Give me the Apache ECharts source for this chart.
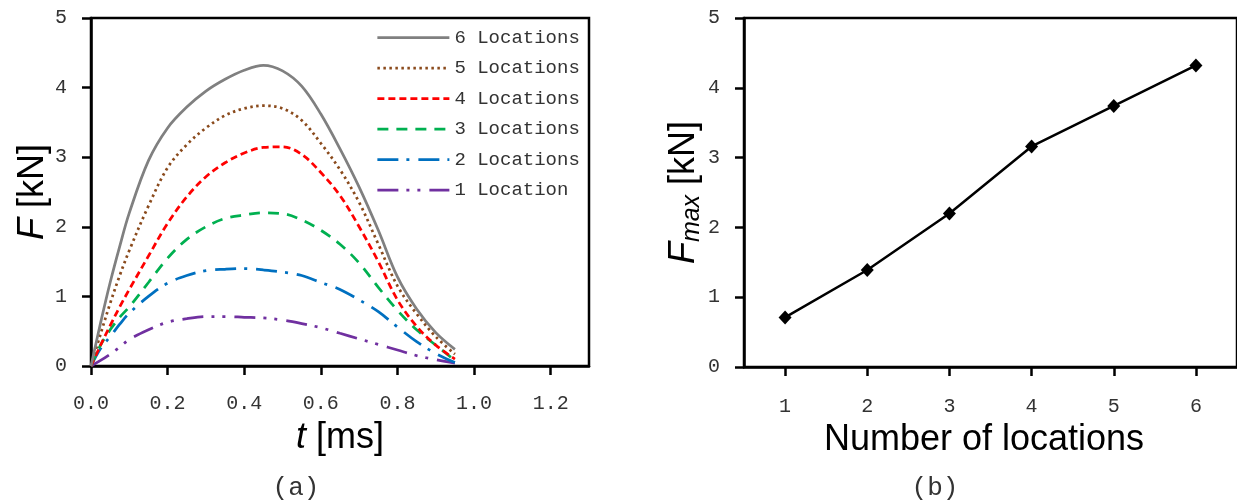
<!DOCTYPE html>
<html>
<head>
<meta charset="utf-8">
<script src="https://cdn.jsdelivr.net/npm/echarts@6/dist/echarts.min.js"></script>
<style>
html, body { margin: 0; padding: 0; background: #fff; }
#chart { width: 1237px; height: 502px; }
</style>
</head>
<body>
<div id="chart"></div>
<script>
// ---- data ----
const tMs = [0, 0.025, 0.05, 0.075, 0.1, 0.15, 0.2, 0.25, 0.3, 0.35, 0.4, 0.45, 0.5, 0.55, 0.6, 0.65, 0.7, 0.75, 0.8, 0.85, 0.9, 0.95];
const loc6 = [0, 0.62, 1.2, 1.72, 2.2, 2.95, 3.42, 3.72, 3.95, 4.12, 4.25, 4.32, 4.24, 4.02, 3.62, 3.12, 2.57, 1.95, 1.28, 0.82, 0.48, 0.24];
const loc5 = [0, 0.46, 0.9, 1.3, 1.66, 2.3, 2.85, 3.18, 3.42, 3.6, 3.7, 3.74, 3.7, 3.53, 3.2, 2.82, 2.35, 1.75, 1.15, 0.75, 0.42, 0.17];
const loc4 = [0, 0.3, 0.58, 0.85, 1.1, 1.58, 2.05, 2.43, 2.72, 2.92, 3.06, 3.14, 3.15, 3.04, 2.78, 2.45, 2.0, 1.5, 0.95, 0.57, 0.3, 0.1];
const loc3 = [0, 0.3, 0.52, 0.7, 0.85, 1.2, 1.55, 1.82, 2.0, 2.12, 2.17, 2.2, 2.19, 2.1, 1.95, 1.75, 1.48, 1.13, 0.8, 0.52, 0.3, 0.08];
const loc2 = [0, 0.25, 0.42, 0.6, 0.76, 1.0, 1.19, 1.3, 1.37, 1.39, 1.4, 1.38, 1.35, 1.3, 1.2, 1.1, 0.95, 0.78, 0.56, 0.35, 0.18, 0.05];
const loc1 = [0, 0.08, 0.17, 0.27, 0.38, 0.52, 0.63, 0.68, 0.71, 0.71, 0.7, 0.69, 0.66, 0.61, 0.55, 0.47, 0.39, 0.31, 0.23, 0.15, 0.09, 0.04];
const seriesNames = ['6 Locations', '5 Locations', '4 Locations', '3 Locations', '2 Locations', '1 Location'];
const tTicks = [0, 0.2, 0.4, 0.6, 0.8, 1.0, 1.2];
const locationCounts = ['1', '2', '3', '4', '5', '6'];
const fMax = [0.71, 1.39, 2.2, 3.16, 3.74, 4.32];

// ---- styles ----
const colors = ['#808080', '#8a4a1c', '#ff0000', '#00b050', '#0070c0', '#7030a0'];
const dashes = ['solid', [2.5, 3.5], [7, 4], [11, 8], [21, 8, 3, 9], [21, 8, 3, 8, 3, 9]];
const curves = [loc6, loc5, loc4, loc3, loc2, loc1];

const mono = 'Liberation Mono';
const sans = 'Liberation Sans';
const tickLabel = { fontFamily: mono, fontSize: 20, color: '#333' };
const axLine = { show: true, onZero: false, lineStyle: { color: '#000', width: 2.5 } };
const axTick = { show: true, length: 9, lineStyle: { color: '#000', width: 2.5 } };

const chart = echarts.init(document.getElementById('chart'), null, { renderer: 'canvas' });

const lineSeries = curves.map((vals, k) => ({
  name: seriesNames[k],
  type: 'line',
  xAxisIndex: 0,
  yAxisIndex: 0,
  smooth: 0.35,
  symbol: 'none',
  data: tMs.map((t, i) => [t, vals[i]]),
  lineStyle: { color: colors[k], width: 2.75, type: dashes[k] },
  itemStyle: { color: colors[k] },
  z: 10 - k
}));

const option = {
  animation: false,
  backgroundColor: '#fff',
  grid: [
    { left: 91, top: 18, right: 648, bottom: 136, show: true, borderColor: '#000', borderWidth: 2.5, backgroundColor: 'transparent' },
    { left: 744, top: 18, right: -4, bottom: 135, show: true, borderColor: '#000', borderWidth: 2.5, backgroundColor: 'transparent' }
  ],
  legend: {
    data: seriesNames,
    orient: 'vertical',
    left: 376,
    top: 28,
    padding: 0,
    itemWidth: 72,
    itemHeight: 14,
    itemGap: 11.5,
    itemStyle: { opacity: 0 },
    lineStyle: { width: 2.75 },
    textStyle: { fontFamily: mono, fontSize: 19, color: '#333' }
  },
  xAxis: [
    {
      type: 'value', gridIndex: 0, min: 0, max: 1.3,
      splitLine: { show: false },
      axisLine: axLine,
      axisTick: Object.assign({ customValues: tTicks }, axTick),
      axisLabel: Object.assign({ customValues: tTicks, margin: 28, formatter: v => v.toFixed(1) }, tickLabel),
      name: '{i|t}{n| [ms]}',
      nameLocation: 'middle',
      nameGap: 54,
      nameTextStyle: {
        rich: {
          i: { fontFamily: sans, fontSize: 36, fontStyle: 'italic', color: '#000' },
          n: { fontFamily: sans, fontSize: 36, color: '#000' }
        }
      }
    },
    {
      type: 'category', gridIndex: 1, data: locationCounts, boundaryGap: true,
      splitLine: { show: false },
      axisLine: axLine,
      axisTick: Object.assign({ alignWithLabel: true }, axTick),
      axisLabel: Object.assign({ margin: 30 }, tickLabel),
      name: 'Number of locations',
      nameLocation: 'middle',
      nameGap: 54,
      nameTextStyle: { fontFamily: sans, fontSize: 36, color: '#000', padding: [0, 13, 0, 0] }
    }
  ],
  yAxis: [
    {
      type: 'value', gridIndex: 0, min: 0, max: 5, interval: 1,
      splitLine: { show: false },
      axisLine: axLine,
      axisTick: axTick,
      axisLabel: Object.assign({ margin: 24 }, tickLabel),
      name: '{i|F}{n| [kN]}',
      nameLocation: 'middle',
      nameGap: 40,
      nameTextStyle: {
        rich: {
          i: { fontFamily: sans, fontSize: 36, fontStyle: 'italic', color: '#000' },
          n: { fontFamily: sans, fontSize: 36, color: '#000' }
        }
      }
    },
    {
      type: 'value', gridIndex: 1, min: 0, max: 5, interval: 1,
      splitLine: { show: false },
      axisLine: axLine,
      axisTick: axTick,
      axisLabel: Object.assign({ margin: 24 }, tickLabel),
      name: '{i|F}{s|max}{n| [kN]}',
      nameLocation: 'middle',
      nameGap: 38,
      nameTextStyle: {
        rich: {
          i: { fontFamily: sans, fontSize: 36, fontStyle: 'italic', color: '#000', lineHeight: 38, verticalAlign: 'top' },
          s: { fontFamily: sans, fontSize: 25, fontStyle: 'italic', color: '#000', lineHeight: 25, padding: [20, 0, 0, 0], verticalAlign: 'bottom' },
          n: { fontFamily: sans, fontSize: 36, color: '#000', lineHeight: 38, verticalAlign: 'top' }
        }
      }
    }
  ],
  series: lineSeries.concat([{
    name: 'Fmax',
    type: 'line',
    xAxisIndex: 1,
    yAxisIndex: 1,
    data: fMax,
    symbol: 'diamond',
    symbolSize: [13, 14],
    lineStyle: { color: '#000', width: 2.5 },
    itemStyle: { color: '#000' }
  }]),
  graphic: [
    { type: 'text', x: 296, y: 488, style: { text: '(a)', fontFamily: mono, fontSize: 26, fill: '#333', textAlign: 'center', textVerticalAlign: 'middle' } },
    { type: 'text', x: 935, y: 488, style: { text: '(b)', fontFamily: mono, fontSize: 26, fill: '#333', textAlign: 'center', textVerticalAlign: 'middle' } }
  ]
};

chart.setOption(option);
</script>
</body>
</html>
